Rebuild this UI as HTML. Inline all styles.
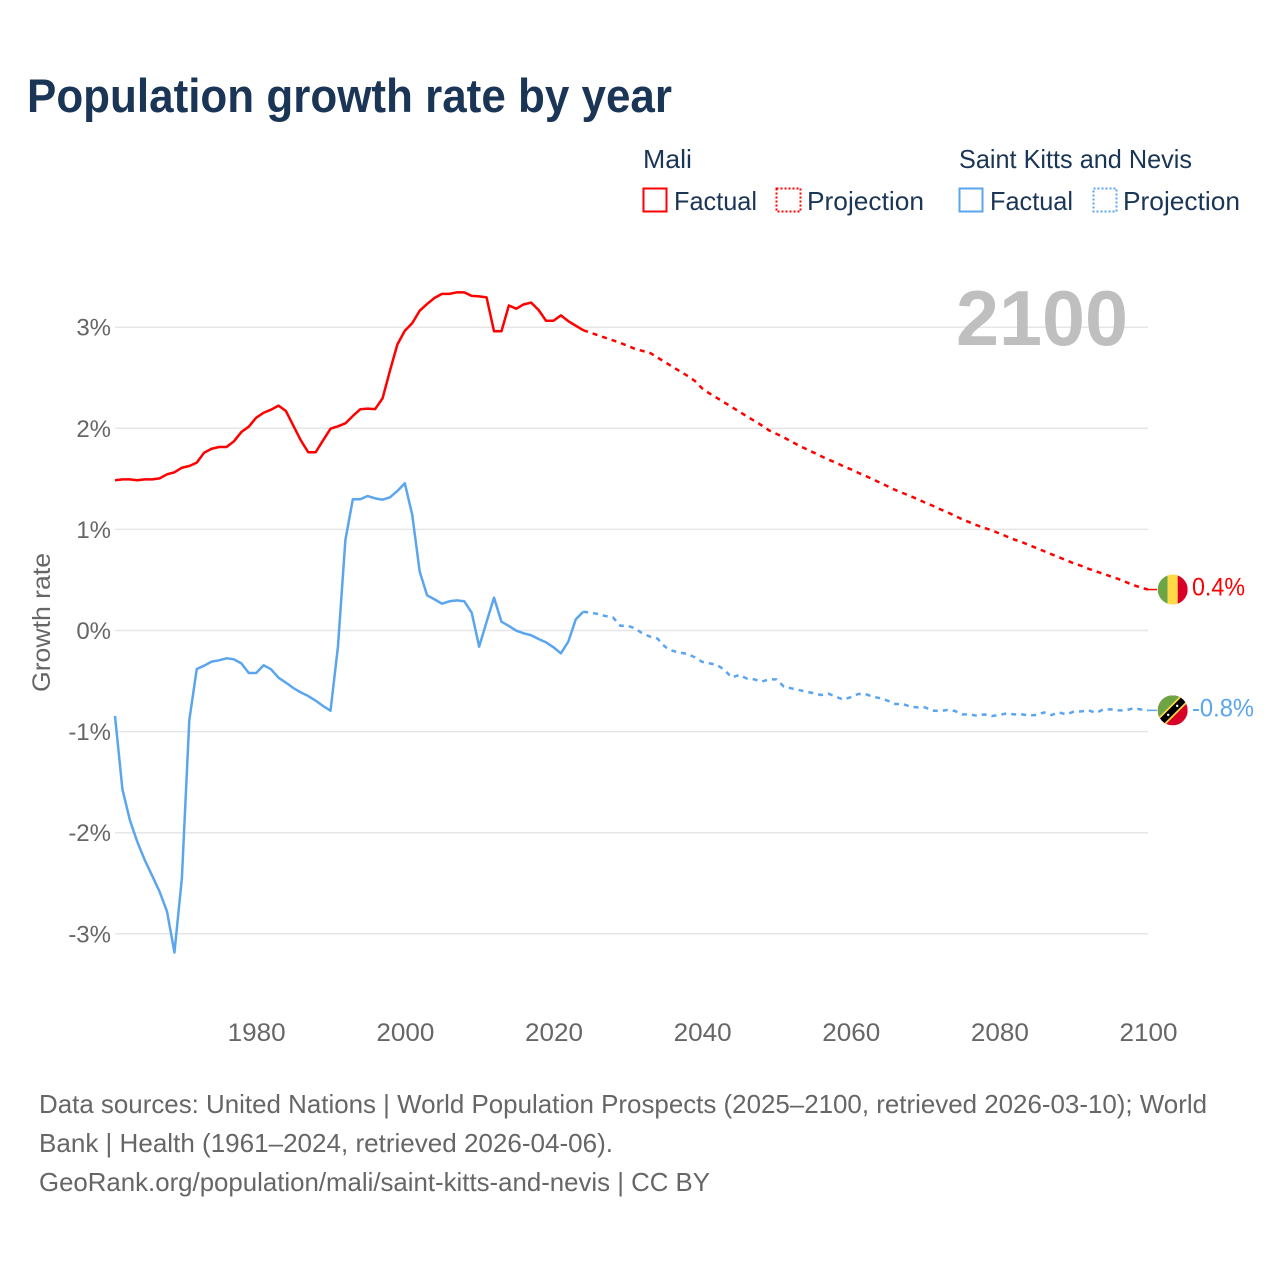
<!DOCTYPE html>
<html lang="en">
<head>
<meta charset="utf-8">
<title>Population growth rate by year</title>
<style>
html,body{margin:0;padding:0;background:#fff;width:1280px;height:1280px;overflow:hidden}
svg{display:block}
text{font-family:"Liberation Sans",sans-serif}
</style>
</head>
<body>
<svg id="chart" width="1280" height="1280" viewBox="0 0 1280 1280" xmlns="http://www.w3.org/2000/svg">
  <defs>
    <clipPath id="mali-clip"><circle cx="0" cy="0" r="15"/></clipPath>
    <clipPath id="skn-clip"><circle cx="0" cy="0" r="15"/></clipPath>
  </defs>
  <rect width="1280" height="1280" fill="#fff"/>
  <text x="27" y="112" font-size="47" font-weight="700" fill="#1a3555" textLength="645" lengthAdjust="spacingAndGlyphs">Population growth rate by year</text>

  <g font-size="26" fill="#1a3555">
    <text x="643" y="168" textLength="49" lengthAdjust="spacingAndGlyphs">Mali</text>
    <text x="959" y="168" textLength="233" lengthAdjust="spacingAndGlyphs">Saint Kitts and Nevis</text>
    <g>
      <rect x="643.5" y="188.5" width="23" height="23" fill="none" stroke="#ff0000" stroke-width="2"/>
      <text x="674" y="210" textLength="83" lengthAdjust="spacingAndGlyphs">Factual</text>
    </g>
    <g>
      <rect x="776.5" y="188.5" width="24" height="23" fill="none" stroke="#ff0000" stroke-width="2" stroke-dasharray="2 2"/>
      <text x="807" y="210" textLength="117" lengthAdjust="spacingAndGlyphs">Projection</text>
    </g>
    <g>
      <rect x="959.5" y="188.5" width="23" height="23" fill="none" stroke="#5ba5ef" stroke-width="2"/>
      <text x="990" y="210" textLength="83" lengthAdjust="spacingAndGlyphs">Factual</text>
    </g>
    <g>
      <rect x="1093.5" y="188.5" width="23" height="23" fill="none" stroke="#5ba5ef" stroke-width="2" stroke-dasharray="2 2"/>
      <text x="1123" y="210" textLength="117" lengthAdjust="spacingAndGlyphs">Projection</text>
    </g>
  </g>

  <g id="grid"></g>
  <text x="956" y="345" font-size="78" font-weight="700" fill="#bfbfbf" textLength="172" lengthAdjust="spacingAndGlyphs">2100</text>
  <g id="yticks" font-size="24" fill="#666"></g>
  <g id="xticks" font-size="25" fill="#666"></g>
  <text transform="translate(50,692) rotate(-90)" font-size="25" fill="#666" textLength="139" lengthAdjust="spacingAndGlyphs">Growth rate</text>
  <g id="series"></g>

  <g id="flag-mali">
    <g clip-path="url(#mali-clip)">
      <rect x="-15" y="-15" width="10" height="30" fill="#6da544"/>
      <rect x="-5" y="-15" width="10" height="30" fill="#ffda44"/>
      <rect x="5" y="-15" width="10" height="30" fill="#d80027"/>
    </g>
  </g>
  <g id="flag-skn">
    <g clip-path="url(#skn-clip)">
      <rect x="-15" y="-15" width="30" height="30" fill="#d80027"/>
      <polygon points="-15,-15 15,-15 -15,15" fill="#6da544"/>
      <line x1="-17" y1="17" x2="17" y2="-17" stroke="#ffda44" stroke-width="10"/>
      <line x1="-17" y1="17" x2="17" y2="-17" stroke="#000" stroke-width="6.5"/>
      <circle cx="-4.5" cy="4.5" r="1.2" fill="#fff"/>
      <circle cx="4.5" cy="-4.5" r="1.2" fill="#fff"/>
    </g>
  </g>
  <g id="endlabels" font-size="25"></g>

  <g font-size="26" fill="#666">
    <text x="39" y="1113" textLength="1168" lengthAdjust="spacingAndGlyphs">Data sources: United Nations | World Population Prospects (2025–2100, retrieved 2026-03-10); World</text>
    <text x="39" y="1152" textLength="574" lengthAdjust="spacingAndGlyphs">Bank | Health (1961–2024, retrieved 2026-04-06).</text>
    <text x="39" y="1191" textLength="671" lengthAdjust="spacingAndGlyphs">GeoRank.org/population/mali/saint-kitts-and-nevis | CC BY</text>
  </g>
</svg>
<script>
var factualStartYear = 1961;
var projectionStartYear = 2024;
var yTickValues = [3, 2, 1, 0, -1, -2, -3];
var yTickLabels = ['3%', '2%', '1%', '0%', '-1%', '-2%', '-3%'];
var xTickYears = [1980, 2000, 2020, 2040, 2060, 2080, 2100];
var xTickLabels = ['1980', '2000', '2020', '2040', '2060', '2080', '2100'];
var maliFactual = [1.486, 1.495, 1.495, 1.486, 1.495, 1.495, 1.505, 1.545, 1.565, 1.61, 1.627, 1.66, 1.759, 1.798, 1.815, 1.815, 1.871, 1.963, 2.016, 2.105, 2.154, 2.184, 2.224, 2.171, 2.026, 1.881, 1.763, 1.763, 1.881, 1.996, 2.02, 2.049, 2.122, 2.188, 2.195, 2.19, 2.296, 2.57, 2.83, 2.965, 3.04, 3.163, 3.23, 3.29, 3.33, 3.33, 3.345, 3.345, 3.31, 3.305, 3.295, 2.96, 2.96, 3.215, 3.183, 3.226, 3.243, 3.17, 3.064, 3.064, 3.117, 3.06, 3.015, 2.97];
var maliProjection = [2.97, 2.945, 2.92, 2.895, 2.87, 2.845, 2.815, 2.785, 2.765, 2.745, 2.70, 2.655, 2.61, 2.565, 2.52, 2.47, 2.395, 2.345, 2.30, 2.255, 2.21, 2.165, 2.12, 2.075, 2.03, 1.98, 1.945, 1.91, 1.87, 1.83, 1.795, 1.76, 1.725, 1.69, 1.66, 1.625, 1.595, 1.56, 1.53, 1.495, 1.46, 1.425, 1.39, 1.36, 1.33, 1.30, 1.265, 1.235, 1.20, 1.17, 1.135, 1.10, 1.07, 1.04, 1.015, 0.99, 0.96, 0.93, 0.90, 0.875, 0.845, 0.815, 0.785, 0.755, 0.725, 0.695, 0.665, 0.64, 0.61, 0.585, 0.56, 0.535, 0.51, 0.48, 0.45, 0.425, 0.405];
var kittsFactual = [-0.846, -1.571, -1.875, -2.09, -2.27, -2.425, -2.583, -2.78, -3.185, -2.45, -0.885, -0.381, -0.348, -0.308, -0.295, -0.275, -0.285, -0.325, -0.42, -0.42, -0.344, -0.384, -0.467, -0.516, -0.569, -0.612, -0.648, -0.694, -0.747, -0.793, -0.16, 0.895, 1.298, 1.298, 1.33, 1.307, 1.294, 1.317, 1.38, 1.456, 1.142, 0.582, 0.348, 0.308, 0.265, 0.289, 0.298, 0.289, 0.176, -0.16, 0.085, 0.325, 0.087, 0.045, -0.002, -0.028, -0.047, -0.084, -0.117, -0.166, -0.226, -0.11, 0.11, 0.186];
var kittsProjection = [0.186, 0.176, 0.163, 0.143, 0.13, 0.047, 0.047, 0.02, -0.03, -0.06, -0.08, -0.16, -0.2, -0.22, -0.23, -0.265, -0.31, -0.325, -0.34, -0.39, -0.465, -0.44, -0.475, -0.483, -0.506, -0.483, -0.483, -0.555, -0.572, -0.588, -0.605, -0.62, -0.638, -0.625, -0.655, -0.684, -0.66, -0.628, -0.63, -0.655, -0.67, -0.695, -0.727, -0.727, -0.753, -0.76, -0.76, -0.793, -0.796, -0.786, -0.795, -0.83, -0.83, -0.843, -0.83, -0.846, -0.836, -0.82, -0.83, -0.83, -0.84, -0.836, -0.81, -0.836, -0.81, -0.83, -0.803, -0.8, -0.79, -0.815, -0.78, -0.78, -0.79, -0.79, -0.77, -0.78, -0.79];
var maliEndLabel = '0.4%';
var kittsEndLabel = '-0.8%';

var SVGNS = 'http://www.w3.org/2000/svg';
function xScale(year) { return 115 + (year - 1961) * (1148 - 115) / 139; }
function yScale(value) { return 630.5 - value * 101.1; }
function linePath(values, startYear) {
  var d = '';
  for (var i = 0; i < values.length; i++) {
    d += (i ? 'L' : 'M') + xScale(startYear + i).toFixed(2) + ' ' + yScale(values[i]).toFixed(2);
  }
  return d;
}
function make(tag, parent) {
  var el = document.createElementNS(SVGNS, tag);
  parent.appendChild(el);
  return el;
}
var gridGroup = document.getElementById('grid');
var yTickGroup = document.getElementById('yticks');
var xTickGroup = document.getElementById('xticks');
var seriesGroup = document.getElementById('series');
var endGroup = document.getElementById('endlabels');

yTickValues.forEach(function (v, i) {
  var line = make('line', gridGroup);
  
  
  line.setAttribute('x1', 115);
  line.setAttribute('x2', 1148);
  line.setAttribute('y1', yScale(v));
  line.setAttribute('y2', yScale(v));
  line.setAttribute('stroke', '#e6e6e6');
  line.setAttribute('stroke-width', '1.5');
  var t = make('text', yTickGroup);
  
  
  t.setAttribute('x', 111);
  t.setAttribute('y', yScale(v) + 8.5);
  t.setAttribute('text-anchor', 'end');
  t.textContent = yTickLabels[i];
});

xTickYears.forEach(function (yr, i) {
  var t = make('text', xTickGroup);
  
  
  t.setAttribute('x', xScale(yr) + 0.5);
  t.setAttribute('y', 1041);
  t.setAttribute('text-anchor', 'middle');
  t.setAttribute('textLength', '58');
  t.setAttribute('lengthAdjust', 'spacingAndGlyphs');
  t.textContent = xTickLabels[i];
});

var redColor = '#ff0000';
var blueColor = '#5ba5ef';

function addLine(values, startYear, color, dashed, name) {
  var p = make('path', seriesGroup);
  
  
  p.setAttribute('d', linePath(values, startYear));
  p.setAttribute('fill', 'none');
  p.setAttribute('stroke', color);
  p.setAttribute('stroke-width', '2.5');
  p.setAttribute('stroke-linejoin', 'round');
  if (dashed) { p.setAttribute('stroke-dasharray', '5 5'); }
}
addLine(maliFactual, factualStartYear, redColor, false, 'mali-factual-line');
addLine(maliProjection, projectionStartYear, redColor, true, 'mali-projection-line');
addLine(kittsFactual, factualStartYear, blueColor, false, 'saint-kitts-factual-line');
addLine(kittsProjection, projectionStartYear, blueColor, true, 'saint-kitts-projection-line');

function addEnd(values, color, label, flagId, width, lineName, labelName) {
  var ey = yScale(values[values.length - 1]);
  var c = make('line', seriesGroup);
  
  
  c.setAttribute('x1', 1148);
  c.setAttribute('x2', 1157);
  c.setAttribute('y1', ey);
  c.setAttribute('y2', ey);
  c.setAttribute('stroke', color);
  c.setAttribute('stroke-width', '1.5');
  document.getElementById(flagId).setAttribute('transform', 'translate(1172.7,' + ey.toFixed(2) + ')');
  var t = make('text', endGroup);
  
  
  t.setAttribute('x', 1192);
  t.setAttribute('y', ey + 6);
  t.setAttribute('fill', color);
  t.setAttribute('textLength', width);
  t.setAttribute('lengthAdjust', 'spacingAndGlyphs');
  t.textContent = label;
}
addEnd(maliProjection, redColor, maliEndLabel, 'flag-mali', 53, 'mali-end-connector', 'mali-end-label');
addEnd(kittsProjection, blueColor, kittsEndLabel, 'flag-skn', 62, 'saint-kitts-end-connector', 'saint-kitts-end-label');
</script>
</body>
</html>
